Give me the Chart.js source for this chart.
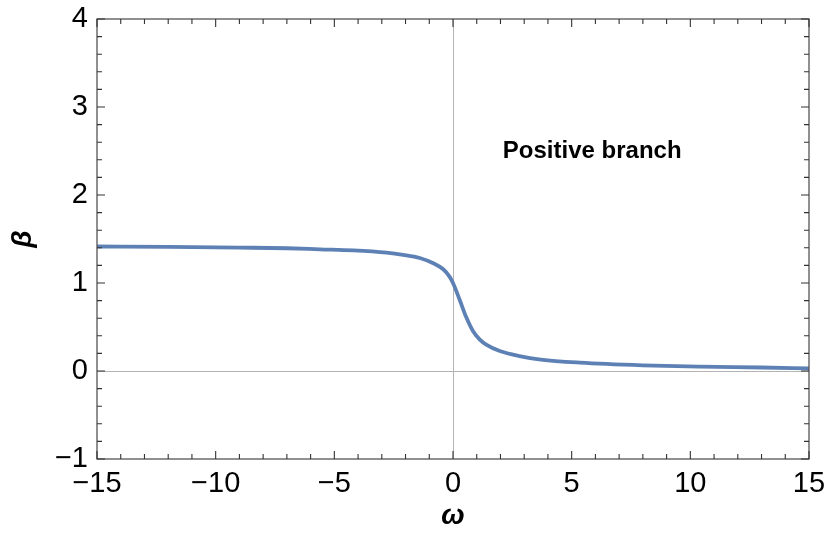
<!DOCTYPE html>
<html>
<head>
<meta charset="utf-8">
<title>beta vs omega</title>
<script src="https://cdn.jsdelivr.net/npm/chart.js@4/dist/chart.umd.min.js"></script>
<style>
  html, body { margin: 0; padding: 0; background: #fff; }
  #wrap { width: 830px; height: 556px; }
</style>
</head>
<body>
<div id="wrap"><canvas id="plot" width="830" height="556"></canvas></div>
<script>
// values
var omega = [-15, -12, -9, -7, -5.6, -4.2, -2.8, -2.1, -1.4, -0.83, -0.41, -0.14, 0, 0.28, 0.56, 0.84, 1.12, 1.4, 1.97, 2.8, 3.7, 5.35, 8, 10.4, 13, 15];
var beta = [1.415, 1.41, 1.402, 1.395, 1.383, 1.371, 1.345, 1.32, 1.284, 1.224, 1.156, 1.07, 1.0, 0.81, 0.61, 0.455, 0.36, 0.30, 0.227, 0.17, 0.13, 0.095, 0.065, 0.05, 0.04, 0.03];
var xTicks = [-15, -10, -5, 0, 5, 10, 15];
var yTicks = [-1, 0, 1, 2, 3, 4];
var xMinor = 1, yMinor = 0.2;
var note = { x: 2.1, y: 2.5, text: 'Positive branch' };

var FONT = "'Liberation Sans', Arial, sans-serif";

function fmt(v) {
    return v < 0 ? '\u2212' + Math.abs(v) : String(v);
}

var points = omega.map(function (w, i) { return { x: w, y: beta[i] }; });

// Mathematica style frame: zero axes, ticks inside on all four sides, text label
var framePlugin = {
    id: 'frame',
    beforeDatasetsDraw: function (chart) {
        var ctx = chart.ctx, a = chart.chartArea;
        var sx = chart.scales.x, sy = chart.scales.y;
        ctx.save();
        ctx.strokeStyle = '#b4b4b4';
        ctx.lineWidth = 1;
        var px = Math.round(sx.getPixelForValue(0)) + 0.5;
        var py = Math.round(sy.getPixelForValue(0)) + 0.5;
        ctx.beginPath();
        ctx.moveTo(px, a.top); ctx.lineTo(px, a.bottom);
        ctx.moveTo(a.left, py); ctx.lineTo(a.right, py);
        ctx.stroke();
        ctx.restore();
    },
    afterDatasetsDraw: function (chart) {
        var ctx = chart.ctx, a = chart.chartArea;
        var sx = chart.scales.x, sy = chart.scales.y;
        ctx.save();
        ctx.strokeStyle = '#555';
        ctx.lineWidth = 1.3;
        ctx.strokeRect(a.left, a.top, a.right - a.left, a.bottom - a.top);

        ctx.lineWidth = 1.1;
        ctx.strokeStyle = '#333';
        ctx.beginPath();
        var v, p, len;
        for (v = sx.min; v <= sx.max + 1e-9; v += xMinor) {
            len = xTicks.indexOf(Math.round(v)) >= 0 ? 8 : 5;
            p = sx.getPixelForValue(v);
            ctx.moveTo(p, a.bottom); ctx.lineTo(p, a.bottom - len);
            ctx.moveTo(p, a.top); ctx.lineTo(p, a.top + len);
        }
        for (v = sy.min; v <= sy.max + 1e-9; v += yMinor) {
            var r = Math.round(v * 10) / 10;
            len = yTicks.indexOf(r) >= 0 ? 8 : 5;
            p = sy.getPixelForValue(r);
            ctx.moveTo(a.left, p); ctx.lineTo(a.left + len, p);
            ctx.moveTo(a.right, p); ctx.lineTo(a.right - len, p);
        }
        ctx.stroke();

        ctx.fillStyle = '#000';
        ctx.font = 'bold 24px ' + FONT;
        ctx.textAlign = 'left';
        ctx.textBaseline = 'middle';
        ctx.fillText(note.text, sx.getPixelForValue(note.x), sy.getPixelForValue(note.y));
        ctx.restore();
    }
};

function noPad(s) {
    s.paddingTop = 0; s.paddingBottom = 0; s.paddingLeft = 0; s.paddingRight = 0;
}

new Chart(document.getElementById('plot'), {
    type: 'scatter',
    data: {
        datasets: [{
            data: points,
            showLine: true,
            borderColor: '#5E81B5',
            borderWidth: 3.8,
            pointRadius: 0,
            cubicInterpolationMode: 'monotone',
            fill: false
        }]
    },
    options: {
        responsive: false,
        animation: false,
        layout: { padding: { left: 0, right: 21, top: 19, bottom: 0 } },
        plugins: {
            legend: { display: false },
            tooltip: { enabled: false }
        },
        scales: {
            x: {
                type: 'linear',
                min: -15, max: 15,
                grid: { display: false, drawTicks: false },
                border: { display: false },
                afterBuildTicks: function (s) { s.ticks = xTicks.map(function (v) { return { value: v }; }); },
                afterFit: function (s) { s.height = 97; noPad(s); },
                ticks: {
                    autoSkip: false, maxRotation: 0, padding: 8,
                    color: '#000',
                    font: { family: FONT, size: 29 },
                    callback: fmt
                },
                title: {
                    display: true, text: 'ω', color: '#000',
                    font: { family: FONT, size: 28, weight: 'bold', style: 'italic' },
                    padding: { top: 0, bottom: 23 }
                }
            },
            y: {
                type: 'linear',
                min: -1, max: 4,
                grid: { display: false, drawTicks: false },
                border: { display: false },
                afterBuildTicks: function (s) { s.ticks = yTicks.map(function (v) { return { value: v }; }); },
                afterFit: function (s) { s.width = 97; noPad(s); },
                ticks: {
                    autoSkip: false, padding: 9,
                    color: '#000',
                    font: { family: FONT, size: 29 },
                    callback: fmt
                },
                title: {
                    display: true, text: 'β', color: '#000',
                    font: { family: FONT, size: 28, weight: 'bold', style: 'italic' },
                    padding: { top: 6, bottom: 0 }
                }
            }
        }
    },
    plugins: [framePlugin]
});
</script>
</body>
</html>
